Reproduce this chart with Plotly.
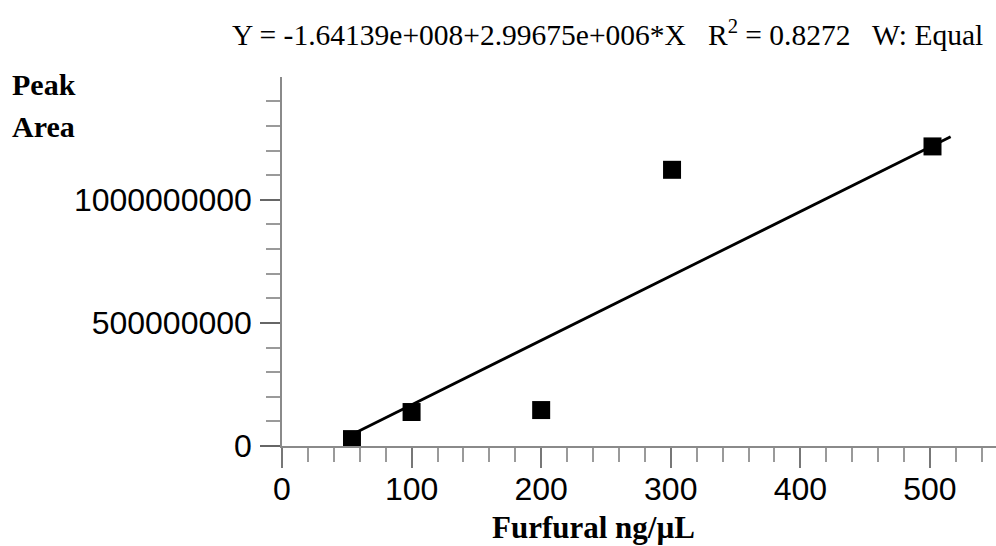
import plotly.graph_objects as go

# Data
conc = [54, 100, 200, 301, 502]                       # Furfural ng/µL
peak_area = [2.8e7, 1.38e8, 1.46e8, 1.122e9, 1.217e9]  # Peak Area
fit_x = [54, 516]
fit_y = [4.7e7, 1.256e9]

x_ticks = [0, 100, 200, 300, 400, 500]
y_ticks = [0, 500000000, 1000000000]
y_ticklabels = ["0", "500000000", "1000000000"]

title_text = "Y = -1.64139e+008+2.99675e+006*X   R<sup>2</sup> = 0.8272   W: Equal"
x_title = "Furfural ng/µL"
y_title_lines = ["Peak", "Area"]

W, H = 996, 546
L, R, T, B = 282, 0, 77, 100
pw, ph = W - L - R, H - T - B

def px(x):
    return (x - L) / pw

def py(y):
    return (H - B - y) / ph

fig = go.Figure()
fig.add_trace(go.Scatter(x=fit_x, y=fit_y, mode="lines",
                         line=dict(color="black", width=2.8),
                         showlegend=False, hoverinfo="skip"))
fig.add_trace(go.Scatter(x=conc, y=peak_area, mode="markers",
                         marker=dict(symbol="square", size=18, color="black",
                                     line=dict(width=0)),
                         showlegend=False))

tick_font = dict(family="Liberation Sans, Arial, sans-serif", size=32, color="black")
serif = "Liberation Serif, Times New Roman, serif"

fig.update_xaxes(range=[0, 551], showgrid=False, zeroline=False,
                 showline=True, linecolor="#8a8a8a", linewidth=1.5,
                 ticks="outside", ticklen=20, tickwidth=1.5, tickcolor="#777777",
                 tickvals=x_ticks, ticktext=[str(v) for v in x_ticks],
                 tickfont=tick_font, ticklabelstandoff=-6,
                 minor=dict(dtick=20, tick0=0, ticks="outside", ticklen=14,
                            tickwidth=1.5, tickcolor="#9a9a9a"))
fig.update_yaxes(range=[0, 1.499e9], showgrid=False, zeroline=False,
                 showline=True, linecolor="#8a8a8a", linewidth=1.5,
                 ticks="outside", ticklen=20, tickwidth=1.5, tickcolor="#666666",
                 tickvals=y_ticks, ticktext=y_ticklabels,
                 tickfont=tick_font, ticklabelstandoff=2,
                 minor=dict(dtick=1e8, tick0=0, ticks="outside", ticklen=14,
                            tickwidth=1.5, tickcolor="#9a9a9a"))

annotations = [
    dict(text=title_text, x=px(985), y=py(33), xref="paper", yref="paper",
         xanchor="right", yanchor="middle", showarrow=False,
         font=dict(family=serif, size=29.5, color="black")),
    dict(text="<b>%s</b>" % x_title, x=px(593), y=py(527), xref="paper", yref="paper",
         xanchor="center", yanchor="middle", showarrow=False,
         font=dict(family=serif, size=31, color="black")),
    dict(text="<b>%s</b>" % y_title_lines[0], x=px(10), y=py(84), xref="paper", yref="paper",
         xanchor="left", yanchor="middle", showarrow=False,
         font=dict(family=serif, size=30, color="black")),
    dict(text="<b>%s</b>" % y_title_lines[1], x=px(10), y=py(127), xref="paper", yref="paper",
         xanchor="left", yanchor="middle", showarrow=False,
         font=dict(family=serif, size=30, color="black")),
]

fig.update_layout(width=W, height=H, margin=dict(l=L, r=R, t=T, b=B),
                  plot_bgcolor="white", paper_bgcolor="white",
                  annotations=annotations, showlegend=False)

fig.write_html("out.html")
